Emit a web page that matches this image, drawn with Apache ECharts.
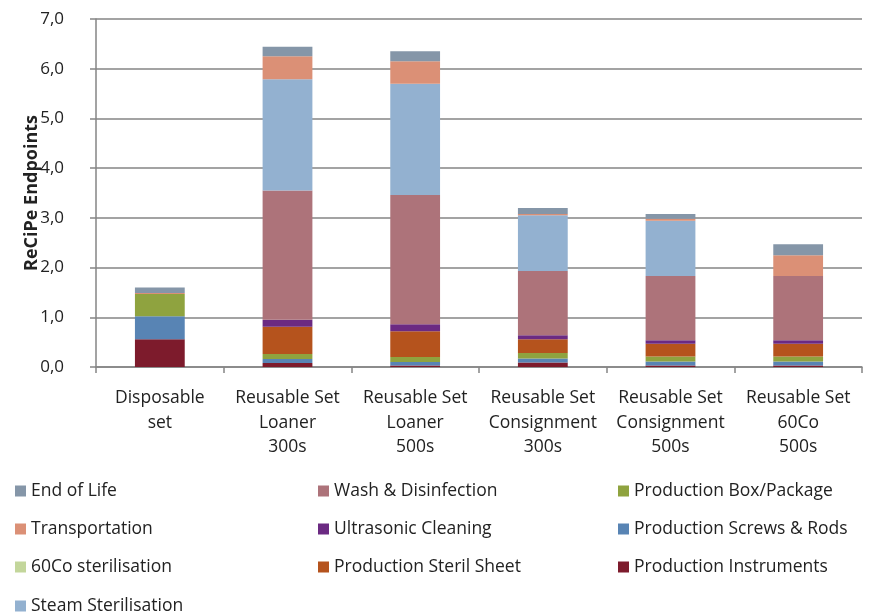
<!DOCTYPE html>
<html>
<head>
<meta charset="utf-8">
<script src="https://cdn.jsdelivr.net/npm/echarts@6/dist/echarts.min.js"></script>
<style>
  html, body { margin: 0; padding: 0; background: #fff; }
  #chart { width: 870px; height: 616px; }
</style>
</head>
<body>
<div id="chart"></div>
<script>
  // categories on the x axis
  const categories = [
    'Disposable\nset',
    'Reusable Set\nLoaner\n300s',
    'Reusable Set\nLoaner\n500s',
    'Reusable Set\nConsignment\n300s',
    'Reusable Set\nConsignment\n500s',
    'Reusable Set\n60Co\n500s'
  ];

  // stack segments, bottom to top
  const prodInstruments = [0.56, 0.08, 0.03, 0.09, 0.03, 0.03];
  const prodScrews      = [0.46, 0.08, 0.07, 0.08, 0.08, 0.08];
  const prodBox         = [0.45, 0.10, 0.10, 0.11, 0.10, 0.10];
  const prodSterilSheet = [0.00, 0.55, 0.52, 0.28, 0.26, 0.26];
  const ultrasonic      = [0.00, 0.14, 0.14, 0.08, 0.07, 0.07];
  const washDisinf      = [0.00, 2.60, 2.60, 1.29, 1.29, 1.29];
  const steamSteril     = [0.00, 2.24, 2.24, 1.12, 1.11, 0.00];
  const coSteril        = [0.00, 0.00, 0.00, 0.00, 0.00, 0.00];
  const transport       = [0.02, 0.46, 0.45, 0.03, 0.04, 0.42];
  const endOfLife       = [0.11, 0.19, 0.20, 0.12, 0.10, 0.22];

  const yTicks = [0, 7, 1]; // min, max, step

  const seriesDefs = [
    { name: 'Production Instruments', data: prodInstruments, color: '#7d1b2c' },
    { name: 'Production Screws & Rods', data: prodScrews, color: '#5884b4' },
    { name: 'Production Box/Package', data: prodBox, color: '#8fa33f' },
    { name: 'Production Steril Sheet', data: prodSterilSheet, color: '#b5531d' },
    { name: 'Ultrasonic Cleaning', data: ultrasonic, color: '#6b2a82' },
    { name: 'Wash & Disinfection', data: washDisinf, color: '#ad737a' },
    { name: 'Steam Sterilisation', data: steamSteril, color: '#93b1d0' },
    { name: '60Co sterilisation', data: coSteril, color: '#c3d69b' },
    { name: 'Transportation', data: transport, color: '#db9076' },
    { name: 'End of Life', data: endOfLife, color: '#8596a8' }
  ];

  const chart = echarts.init(document.getElementById('chart'));

  const font = '"Open Sans", Lato, sans-serif';
  const legendText = { fontFamily: font, fontSize: 17.5, color: '#222' };

  function legendCol(names, left, top) {
    return {
      orient: 'vertical',
      left: left,
      top: top,
      itemGap: 20,
      itemWidth: 11,
      itemHeight: 11,
      icon: 'rect',
      data: names,
      textStyle: legendText,
      selectedMode: false
    };
  }

  const option = {
    animation: false,
    textStyle: { fontFamily: font },
    grid: { left: 96, right: 8, top: 19, bottom: 249 },
    legend: [
      legendCol(['End of Life', 'Transportation', '60Co sterilisation'], 10, 477),
      legendCol(['Steam Sterilisation'], 10, 592),
      legendCol(['Wash & Disinfection', 'Ultrasonic Cleaning', 'Production Steril Sheet'], 313, 477),
      legendCol(['Production Box/Package', 'Production Screws & Rods', 'Production Instruments'], 613, 477)
    ],
    xAxis: {
      type: 'category',
      data: categories,
      axisLine: { lineStyle: { color: '#858585', width: 1.5 } },
      axisTick: { show: true, length: 6, lineStyle: { color: '#858585', width: 1.5 } },
      axisLabel: {
        fontFamily: font, fontSize: 17.5, color: '#222', lineHeight: 24.5,
        margin: 19, interval: 0
      }
    },
    yAxis: {
      type: 'value',
      min: yTicks[0], max: yTicks[1], interval: yTicks[2],
      name: 'ReCiPe Endpoints',
      nameLocation: 'middle',
      nameGap: 55,
      nameMoveOverlap: false,
      nameTextStyle: { fontFamily: font, fontSize: 18, fontWeight: 'bold', color: '#222' },
      axisLine: { show: true, lineStyle: { color: '#858585', width: 1.5 } },
      axisTick: { show: true, inside: false, length: 6, lineStyle: { color: '#858585', width: 1.5 } },
      splitLine: { lineStyle: { color: '#858585', width: 1.5 } },
      axisLabel: {
        fontFamily: font, fontSize: 17, color: '#222', margin: 32,
        formatter: v => v.toFixed(1).replace('.', ',')
      }
    },
    series: seriesDefs.map(s => ({
      name: s.name,
      type: 'bar',
      stack: 'total',
      barWidth: '39%',
      data: s.data,
      itemStyle: { color: s.color }
    }))
  };

  chart.setOption(option);
</script>
</body>
</html>
